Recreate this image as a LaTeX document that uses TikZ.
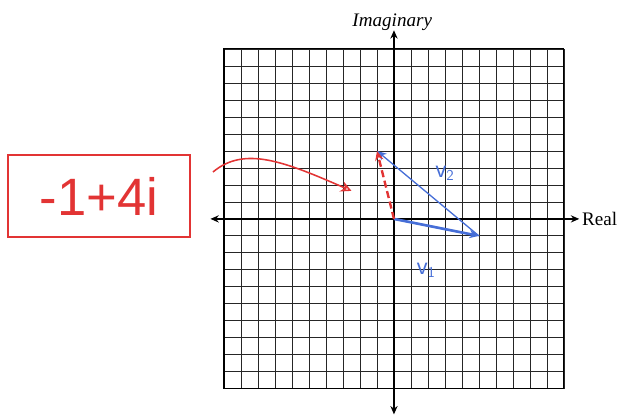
\documentclass[tikz,border=0pt]{standalone}
\usepackage{fontspec}
\setmainfont{Liberation Serif}
\newfontfamily\handfont{Liberation Sans}
\usetikzlibrary{arrows.meta}
\definecolor{penred}{RGB}{226,52,52}
\definecolor{penblue}{RGB}{70,110,215}
\begin{document}
\begin{tikzpicture}[x=0.5cm,y=0.5cm,
    gridline/.style={black!85,line width=0.7pt},
    axisline/.style={black,line width=1.4pt,{Stealth[length=7pt,width=6pt]}-{Stealth[length=7pt,width=6pt]}},
    bluevec/.style={penblue,line width=#1,-{Stealth[length=8pt,width=7pt]}},
    redpen/.style={penred,line width=1.3pt}]
  \useasboundingbox (-23.18,-11.65) rectangle (13.18,12.88);
  % grid paper
  \foreach \k in {-10,...,10} {
    \draw[gridline] (\k,-10)--(\k,10);
    \draw[gridline] (-10,\k)--(10,\k);
  }
  \draw[black,line width=0.9pt] (-10,-10) rectangle (10,10);
  % axes
  \coordinate (O) at (0,0);
  \coordinate (xl) at (-10.8,0);
  \coordinate (xr) at (10.9,0);
  \coordinate (yt) at (0,11.1);
  \coordinate (yb) at (0,-11.5);
  \draw[axisline] (xl)--(xr);
  \draw[axisline] (yb)--(yt);
  \node[font=\itshape\fontsize{16}{16}\selectfont] (imag) at (-0.1,11.6) {Imaginary};
  \node[anchor=west,font=\fontsize{16}{16}\selectfont,inner sep=0pt] (real) at (11.05,0) {Real};
  % vectors
  \coordinate (A) at (5,-1);
  \coordinate (B) at (-1,4);
  \draw[bluevec=2.2pt] (O)--(A);
  \draw[bluevec=1.1pt] (A)--(B);
  \draw[redpen,line width=2pt,dash pattern=on 6pt off 3pt,-{Stealth[length=8pt,width=7pt]}] (O)--(B);
  \node[penblue,font=\handfont\fontsize{18}{18}\selectfont] (v2) at (3,2.7) {v$_{\mathsf{2}}$};
  \node[penblue,font=\handfont\fontsize{18}{18}\selectfont] (v1) at (1.9,-3) {v$_{\mathsf{1}}$};
  % answer box
  \node[draw=penred,line width=1.4pt,minimum width=5.35cm,minimum height=2.4cm,
        text=penred,font=\handfont\fontsize{44}{44}\selectfont] (ans) at (-17.35,1.35) {-1+4i};
  \coordinate (cs) at (-10.65,2.76);
  \coordinate (ce) at (-2.5,1.65);
  \draw[redpen,-{Stealth[length=9pt,width=9pt,open]}] (cs) .. controls (-8.8,4.3) and (-6.5,3.4) .. (ce);
\end{tikzpicture}
\end{document}
